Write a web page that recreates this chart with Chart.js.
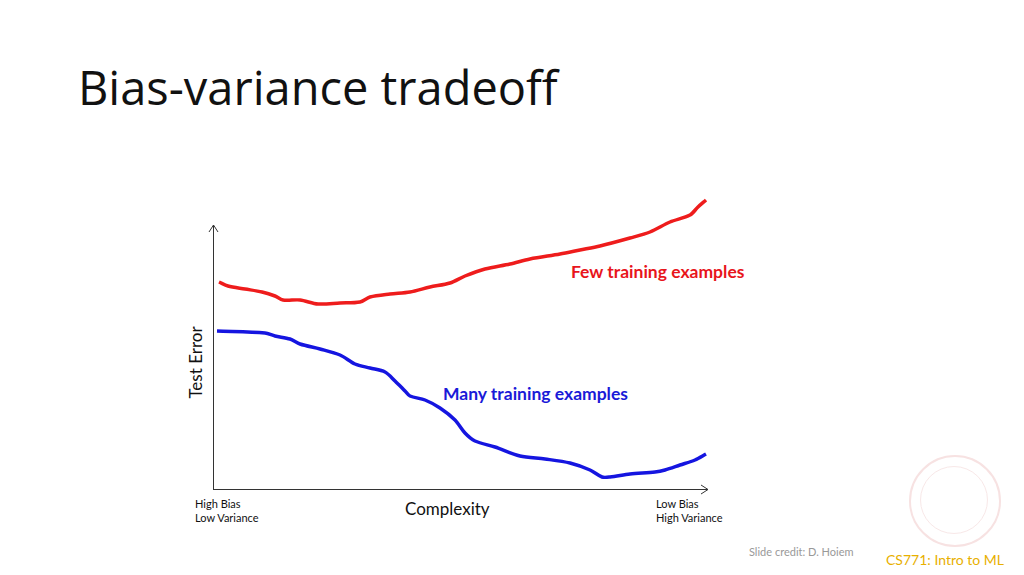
<!DOCTYPE html>
<html><head><meta charset="utf-8">
<script src="https://cdn.jsdelivr.net/npm/chart.js@4/dist/chart.umd.min.js"></script>
<style>
body{margin:0;width:1024px;height:575px;background:#fff;position:relative;overflow:hidden;font-family:Lato,"Open Sans",sans-serif}
.t{position:absolute;white-space:nowrap}
#wrap{position:absolute;left:193px;top:185px;width:535px;height:325px}
</style></head><body>
<div class="t" style="left:78px;top:55px;font-family:'Open Sans';font-size:47px;color:#111">Bias-variance tradeoff</div>
<div class="t" style="left:571px;top:261px;font-size:17.5px;font-weight:bold;color:#e8151b">Few training examples</div>
<div class="t" style="left:443px;top:383px;font-size:17.5px;font-weight:bold;color:#1a1ad8">Many training examples</div>
<div class="t" style="left:150px;top:352px;width:90px;text-align:center;font-size:17px;transform:rotate(-90deg);color:#111">Test Error</div>
<div class="t" style="left:405px;top:498px;font-size:17px;color:#111">Complexity</div>
<div class="t" style="left:195px;top:497px;font-size:11px;line-height:14px;color:#111">High Bias<br>Low Variance</div>
<div class="t" style="left:656px;top:497px;font-size:11px;line-height:14px;color:#111">Low Bias<br>High Variance</div>
<div class="t" style="left:749px;top:545px;font-size:11px;color:#999">Slide credit: D. Hoiem</div>
<div class="t" style="left:886px;top:551px;font-size:14px;color:#e8b000">CS771: Intro to ML</div>
<div class="t" style="left:909px;top:455px;width:88px;height:88px;border:2px solid #f7e2e2;border-radius:50%"></div>
<div class="t" style="left:920px;top:466px;width:66px;height:66px;border:1px solid #f8e8e8;border-radius:50%"></div>
<div id="wrap"><canvas id="c"></canvas></div>
<script>
const redX=[6,15,32,49,62,70,87,105,127,147,157,177,197,217,237,252,272,297,317,347,367,387,417,437,457,477,485,493];
const redY=[208,204,201,198,194,190,190,186,187,188,193,196,198,203,207,214,221,226,231,236,240,244,252,258,268,275,283,290];
const blueX=[4,52,62,77,87,107,127,142,157,172,182,192,197,212,227,242,252,262,282,307,332,357,377,389,397,417,442,452,467,482,493];
const blueY=[159,157,154,151,146,141,135,126,122,118,109,99,94,90,82,70,57,49,43,34,31,27,20,13,13,16,18,20,25,30,36];
const pts=(xs,ys)=>xs.map((x,i)=>({x,y:ys[i]}));
const axes={id:'axes',beforeDatasetsDraw(ch){const a=ch.chartArea,c=ch.ctx;c.save();c.strokeStyle='#333';c.lineWidth=1;c.beginPath();
c.moveTo(a.left+0.5,a.bottom);c.lineTo(a.left+0.5,a.top);c.moveTo(a.left,a.bottom-0.5);c.lineTo(a.right,a.bottom-0.5);
c.moveTo(a.left-4,a.top+7);c.lineTo(a.left+0.5,a.top);c.lineTo(a.left+5,a.top+7);
c.moveTo(a.right-7,a.bottom-5);c.lineTo(a.right,a.bottom-0.5);c.lineTo(a.right-7,a.bottom+4);c.stroke();c.restore();}};
new Chart(document.getElementById('c'),{type:'scatter',plugins:[axes],
data:{datasets:[
{data:pts(redX,redY),showLine:true,borderColor:'#ee1c1c',borderWidth:3.5,pointRadius:0,tension:0.3,clip:false},
{data:pts(blueX,blueY),showLine:true,borderColor:'#1515e0',borderWidth:3.5,pointRadius:0,tension:0.3,clip:false}]},
options:{responsive:true,maintainAspectRatio:false,animation:false,layout:{padding:{left:20,top:40,right:20,bottom:20}},
plugins:{legend:{display:false},tooltip:{enabled:false}},
scales:{x:{type:'linear',min:0,max:495,display:false},y:{min:0,max:265,display:false}}}});
</script></body></html>
